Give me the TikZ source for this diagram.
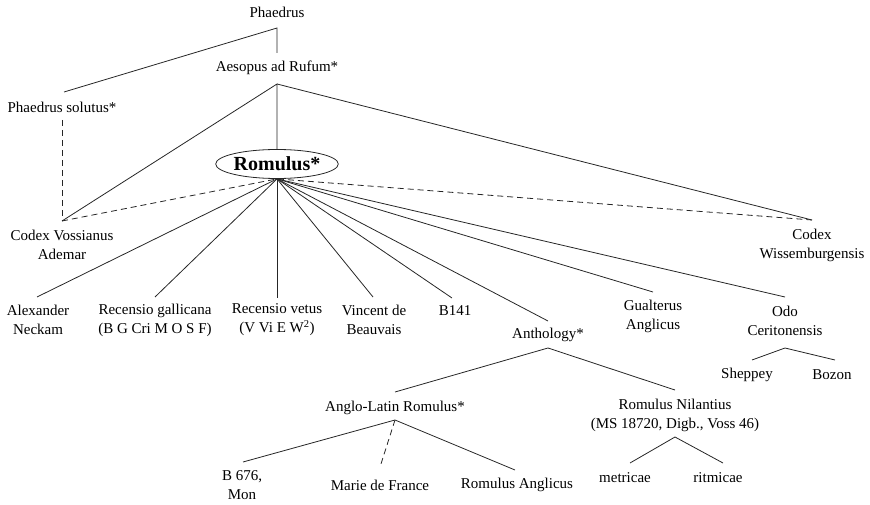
\documentclass[tikz,border=0pt]{standalone}
\usepackage{fontspec}
\setmainfont{Liberation Serif}
\usetikzlibrary{shapes.geometric}
\tikzset{
  lbl/.style={inner sep=0pt, align=center, font=\fontsize{15}{19}\selectfont},
  edge/.style={line width=0.8pt, draw=black!85},
  dedge/.style={edge, dash pattern=on 6pt off 4pt},
  rombox/.style={ellipse, draw=black!85, line width=0.8pt, inner sep=0pt, minimum width=114pt, minimum height=29pt, font=\fontsize{20}{24}\selectfont\bfseries}
}
\begin{document}
\begin{tikzpicture}[x=1pt,y=-1pt]
\useasboundingbox (0,0) rectangle (870,505);
% labels
\node[lbl] (phaedrus) at (277,12) {Phaedrus};
\node[lbl] (aesopus) at (277,68) {Aesopus ad Rufum*};
\node[lbl] (solutus) at (62,107) {Phaedrus solutus*};
\node[rombox] (romulus) at (277,164) {Romulus*};
\node[lbl] (vossianus) at (62,245) {Codex Vossianus\\Ademar};
\node[lbl] (wissem) at (812,245) {Codex\\Wissemburgensis};
\node[lbl] (alex) at (38,320) {Alexander\\Neckam};
\node[lbl] (gall) at (155,320) {Recensio gallicana\\(B G Cri M O S F)};
\node[lbl] (vetus) at (277,320) {Recensio vetus\\(V Vi E W\textsuperscript{2})};
\node[lbl] (vincent) at (374,320) {Vincent de\\Beauvais};
\node[lbl] (b141) at (455,311) {B141};
\node[lbl] (anth) at (548,335) {Anthology*};
\node[lbl] (gual) at (653,316) {Gualterus\\Anglicus};
\node[lbl] (odo) at (785,321) {Odo\\Ceritonensis};
\node[lbl] (sheppey) at (747,375) {Sheppey};
\node[lbl] (bozon) at (832,375) {Bozon};
\node[lbl] (anglo) at (395,408) {Anglo-Latin Romulus*};
\node[lbl] (nilant) at (675,415) {Romulus Nilantius\\(MS 18720, Digb., Voss 46)};
\node[lbl] (b676) at (242,485) {B 676,\\Mon};
\node[lbl] (marie) at (380,485) {Marie de France};
\node[lbl] (ranglicus) at (517,485) {Romulus Anglicus};
\node[lbl] (metricae) at (625,478) {metricae};
\node[lbl] (ritmicae) at (718,478) {ritmicae};
% junction points
\coordinate (phP) at (277,28);
\coordinate (aesT) at (277,53);
\coordinate (aesP) at (277,84);
\coordinate (solT) at (64,92);
\coordinate (solB) at (62,120);
\coordinate (cvT) at (62,221);
\coordinate (cwT) at (812,220);
\coordinate (alexT) at (37,297);
\coordinate (gallT) at (155,297);
\coordinate (vetT) at (277,298);
\coordinate (vinT) at (373,297);
\coordinate (bT) at (452,298);
\coordinate (anthT) at (548,321);
\coordinate (gualT) at (653,292);
\coordinate (odoT) at (785,297);
\coordinate (odoP) at (785,348);
\coordinate (shT) at (752,360);
\coordinate (bzT) at (835,360);
\coordinate (anthP) at (548,348);
\coordinate (angT) at (395,392);
\coordinate (nilT) at (675,390);
\coordinate (angP) at (395,420);
\coordinate (b676T) at (243,462);
\coordinate (marT) at (380,467);
\coordinate (raT) at (515,470);
\coordinate (nilP) at (675,437);
\coordinate (metT) at (630,463);
\coordinate (ritT) at (723,463);
% connectors
\draw[edge] (solT) -- (phP) -- (aesT);
\draw[edge] (cvT) -- (aesP) -- (romulus.north);
\draw[edge] (aesP) -- (cwT);
\draw[dedge] (solB) -- (cvT);
\draw[dedge] (cvT) -- (romulus.south) -- (cwT);
\foreach \t in {alexT,gallT,vetT,vinT,bT,anthT,gualT,odoT}
  \draw[edge] (romulus.south) -- (\t);
\draw[edge] (shT) -- (odoP) -- (bzT);
\draw[edge] (angT) -- (anthP) -- (nilT);
\draw[edge] (b676T) -- (angP) -- (raT);
\draw[dedge] (angP) -- (marT);
\draw[edge] (metT) -- (nilP) -- (ritT);
\end{tikzpicture}
\end{document}
